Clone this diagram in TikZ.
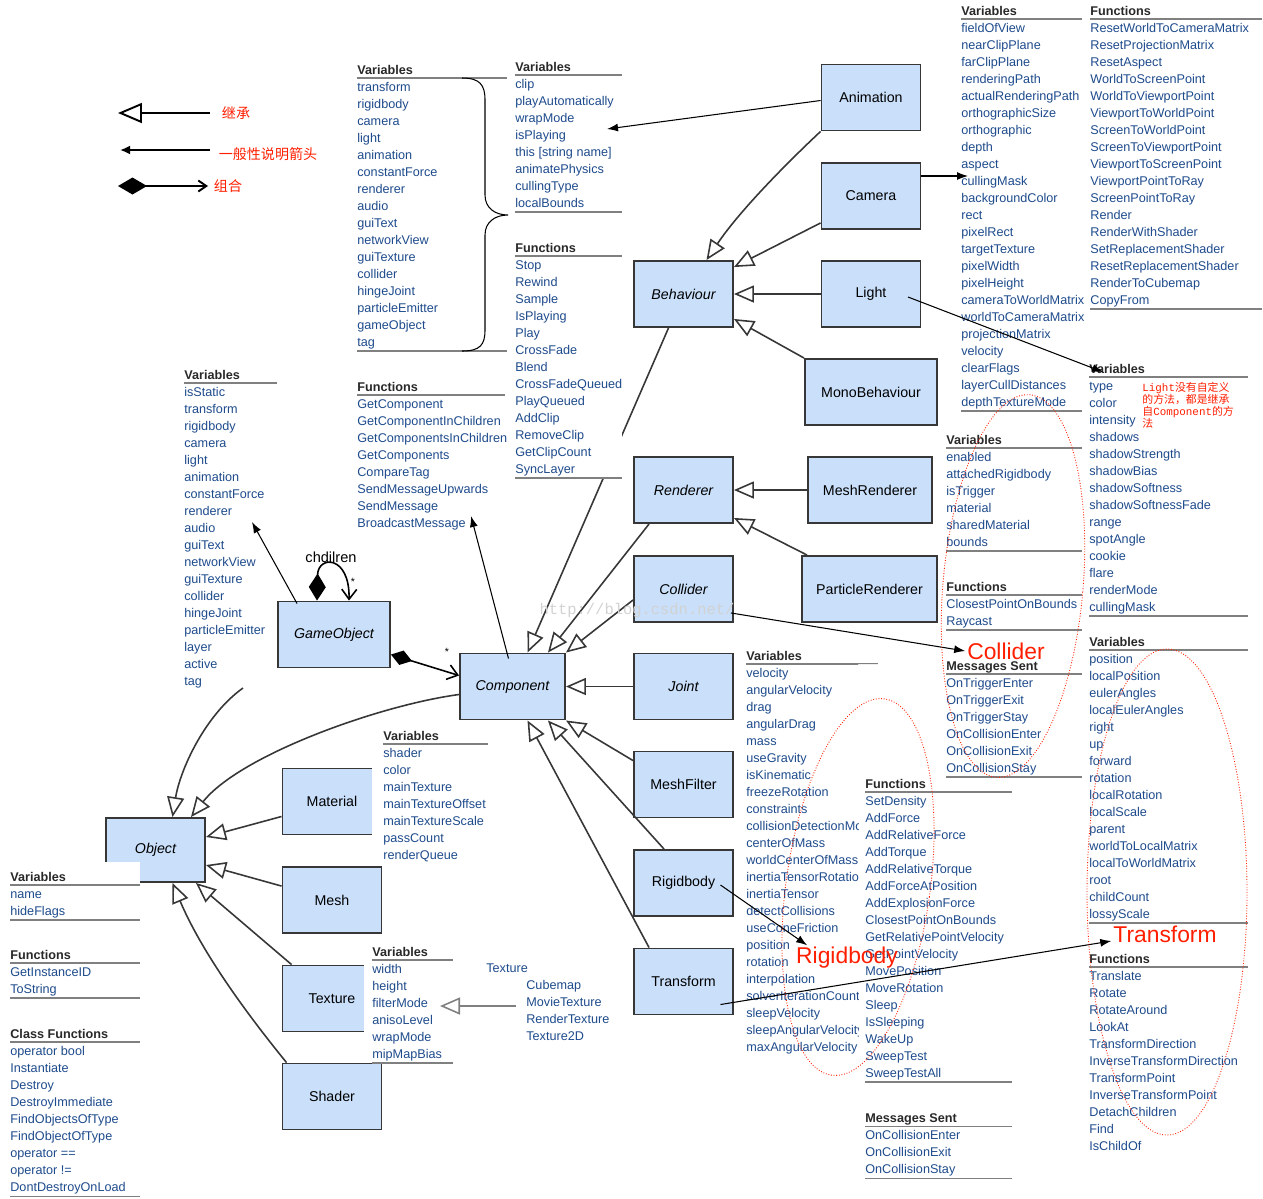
\documentclass[tikz,border=0pt]{standalone}
\usepackage{fontspec}
\setmainfont{Liberation Sans}
\newfontfamily\cjk{Noto Sans CJK SC}
\newfontfamily\ttcourier{Liberation Mono}
\usepackage{tikz}
\usetikzlibrary{arrows.meta}
\usetikzlibrary{calc}

\definecolor{boxfill}{RGB}{201,223,250}
\definecolor{boxline}{RGB}{55,55,55}
\definecolor{itemblue}{RGB}{30,75,140}
\definecolor{headgray}{RGB}{40,40,40}
\definecolor{rulegray}{RGB}{128,128,128}
\definecolor{notered}{RGB}{255,30,0}

\tikzset{
  cls/.style={draw=boxline, line width=1.1pt, fill=boxfill, minimum width=1.98cm, minimum height=1.32cm, inner sep=0pt, font=\fontsize{8.1}{9.7}\selectfont},
  abstract/.style={cls, font=\fontsize{8.1}{9.7}\selectfont\itshape},
  inherit/.style={draw=boxline, line width=0.9pt, -{Triangle[open, length=0.4cm, width=0.34cm, line width=0.9pt]}},
  note/.style={draw=black, line width=0.6pt, -{Latex[length=0.22cm, width=0.16cm]}},
  compose/.style={draw=black, line width=0.9pt, {Diamond[length=0.44cm, width=0.3cm]}-{Straight Barb[length=0.2cm, width=0.3cm, line width=0.9pt]}},
  mhead/.style={anchor=base west, inner sep=0pt, text=headgray, font=\fontsize{7.2}{8.6}\selectfont\bfseries},
  mitem/.style={anchor=base west, inner sep=0pt, text=itemblue, font=\fontsize{7.2}{8.6}\selectfont},
  mrule/.style={draw=rulegray, line width=0.6pt},
  bignote/.style={text=notered, inner sep=1pt, font=\fontsize{13}{15}\selectfont},
  legendtext/.style={text=notered, inner sep=0pt, font=\cjk\fontsize{8}{10}\selectfont},
  ring/.style={draw=notered, densely dotted, line width=0.5pt},
}

% name, x, y of header, rule width, header, items, bottom rule (1/0)
\newcommand{\members}[7]{%
  \node[mhead] (#1) at (#2,#3+4) {#5};
  \draw[mrule] (#2,#3+8) -- ++(#4,0);
  \foreach \memb [count=\idx] in {#6}{
    \node[mitem] (#1-\idx) at (#2,#3+4+17*\idx) {\memb};
    \xdef\mlast{\idx}}
  \ifnum#7=1 \draw[mrule] (#2,#3+9+17*\mlast) -- ++(#4,0);\fi
}

\begin{document}
\begin{tikzpicture}[x=0.02cm, y=-0.02cm]
        \useasboundingbox (0,0) rectangle (1263,1198);

        \node[cls] (Animation) at (871,97.5) {Animation};
        \node[cls] (Camera) at (871,196) {Camera};
        \node[cls] (Light) at (871,294) {Light};
        \node[cls, minimum width=2.64cm] (MonoBehaviour) at (871,392) {MonoBehaviour};
        \node[abstract] (Behaviour) at (683.5,294) {Behaviour};
        \node[abstract] (Renderer) at (683.5,490) {Renderer};
        \node[cls, minimum width=2.48cm] (MeshRenderer) at (870,490) {MeshRenderer};
        \node[cls, minimum width=2.7cm] (ParticleRenderer) at (869.5,589) {ParticleRenderer};
        \node[abstract] (Collider) at (683.5,589) {Collider};
        \node[abstract] (Joint) at (683.5,686.5) {Joint};
        \node[cls] (MeshFilter) at (683.5,784.5) {MeshFilter};
        \node[cls] (Rigidbody) at (683.5,883) {Rigidbody};
        \node[cls] (Transform) at (683.5,981.5) {Transform};
        \node[abstract, minimum width=2.1cm] (Component) at (512.5,686.5) {Component};
        \node[abstract, minimum width=2.24cm] (GameObject) at (334,634.5) {GameObject};
        \node[abstract, minimum height=1.28cm] (Object) at (155.5,850) {Object};
        \node[cls] (Material) at (332,801.5) {Material};
        \node[cls] (Mesh) at (332,900) {Mesh};
        \node[cls] (Texture) at (332,998.5) {Texture};
        \node[cls] (Shader) at (332,1096.5) {Shader};

        \coordinate (goTail) at (243,688);
        \draw[inherit] (Animation.south west) .. controls (790,160) and (740,210) .. ($(Behaviour.north)+(23,0)$);
        \draw[inherit] ($(Camera.south west)+(0,-7)$) -- ($(Behaviour.north east)+(0,7)$);
        \draw[inherit] (Light.west) -- (Behaviour.east);
        \draw[inherit] (MonoBehaviour.north west) -- ($(Behaviour.south east)+(0,-9)$);
        \draw[inherit] ($(Behaviour.south)+(-15,0)$) -- ($(Component.north)+(15,0)$);
        \draw[inherit] (MeshRenderer.west) -- (Renderer.east);
        \draw[inherit] ($(ParticleRenderer.north west)+(6,0)$) -- ($(Renderer.south east)+(0,-6)$);
        \draw[inherit] ($(Renderer.south west)+(16,0)$) -- ($(Component.north east)+(-18,0)$);
        \draw[inherit] ($(Collider.west)+(0,11)$) -- (Component.north east);
        \draw[inherit] (Joint.west) -- (Component.east);
        \draw[inherit] ($(MeshFilter.north west)+(0,10)$) -- (Component.south east);
        \draw[inherit] ($(Rigidbody.north west)+(31,0)$) -- ($(Component.south east)+(-18,0)$);
        \draw[inherit] ($(Transform.north west)+(16,0)$) -- ($(Component.south)+(15,0)$);
        \draw[inherit] (goTail) .. controls (205,715) and (180,770) .. ($(Object.north)+(17,0)$);
        \draw[inherit] ($(Component.west)+(0,8)$) .. controls (380,705) and (240,755) .. ($(Object.north east)+(-15,0)$);
        \draw[inherit] ($(Material.south west)+(0,-19)$) -- ($(Object.east)+(0,-13)$);
        \draw[inherit] ($(Mesh.north west)+(0,20)$) -- ($(Object.east)+(0,15)$);
        \draw[inherit] ($(Texture.north west)+(10,0)$) -- ($(Object.south east)+(-10,0)$);
        \draw[inherit] ($(Shader.north west)+(5,0)$) .. controls (260,1030) and (205,960) .. ($(Object.south)+(17,0)$);

        \draw[compose] ($(GameObject.east)+(0,20)$) -- ($(Component.west)+(0,-11)$);
        \draw[compose, {Diamond[length=0.54cm, width=0.34cm]}-{Straight Barb[length=0.2cm, width=0.3cm, line width=0.9pt]}] ($(GameObject.north)+(-17,0)$) .. controls (318,555) and (350,555) .. ($(GameObject.north)+(15,0)$);
        \node[inner sep=0pt, font=\fontsize{6}{7}\selectfont] (loopMany) at (353,582) {*};
        \node[inner sep=0pt, font=\fontsize{6}{7}\selectfont] (compMany) at (447,652) {*};
        \node[inner sep=0pt, font=\fontsize{8.3}{10}\selectfont] (children) at (331,557) {chdilren};

        \fill[white] (0,862) rectangle (140,886);
        \fill[white] (372,766) rectangle (384,837);
        \fill[white] (364,963) rectangle (384,1034);
        \fill[white] (515,240) rectangle (622,478);

        \members{cv}{357}{70}{150}{Variables}{transform,rigidbody,camera,light,animation,constantForce,renderer,audio,guiText,networkView,guiTexture,collider,hingeJoint,particleEmitter,gameObject,tag}{1}
        \draw[draw=black, line width=0.6pt] (462,78) .. controls (480,78) and (485,85) .. (485,100) -- (485,195) .. controls (485,208) and (495,215) .. (508,215) .. controls (495,215) and (485,222) .. (485,235) -- (485,330) .. controls (485,345) and (480,351) .. (462,351);
        \members{av}{515}{67}{107}{Variables}{clip,playAutomatically,wrapMode,isPlaying,this [string name],animatePhysics,cullingType,localBounds}{1}
        \members{af}{515}{248}{107}{Functions}{Stop,Rewind,Sample,IsPlaying,Play,CrossFade,Blend,CrossFadeQueued,PlayQueued,AddClip,RemoveClip,GetClipCount,SyncLayer}{1}
        \members{cf}{357}{387}{148}{Functions}{GetComponent,GetComponentInChildren,GetComponentsInChildren,GetComponents,CompareTag,SendMessageUpwards,SendMessage,BroadcastMessage}{0}
        \members{gv}{184}{375}{93}{Variables}{isStatic,transform,rigidbody,camera,light,animation,constantForce,renderer,audio,guiText,networkView,guiTexture,collider,hingeJoint,particleEmitter,layer,active,tag}{0}
        \members{camv}{961}{11}{121}{Variables}{fieldOfView,nearClipPlane,farClipPlane,renderingPath,actualRenderingPath,orthographicSize,orthographic,depth,aspect,cullingMask,backgroundColor,rect,pixelRect,targetTexture,pixelWidth,pixelHeight,cameraToWorldMatrix,worldToCameraMatrix,projectionMatrix,velocity,clearFlags,layerCullDistances,depthTextureMode}{1}
        \members{camf}{1090}{11}{172}{Functions}{ResetWorldToCameraMatrix,ResetProjectionMatrix,ResetAspect,WorldToScreenPoint,WorldToViewportPoint,ViewportToWorldPoint,ScreenToWorldPoint,ScreenToViewportPoint,ViewportToScreenPoint,ViewportPointToRay,ScreenPointToRay,Render,RenderWithShader,SetReplacementShader,ResetReplacementShader,RenderToCubemap,CopyFrom}{1}
        \members{lv}{1089}{369}{159}{Variables}{type,color,intensity,shadows,shadowStrength,shadowBias,shadowSoftness,shadowSoftnessFade,range,spotAngle,cookie,flare,renderMode,cullingMask}{1}
        \members{colv}{946}{440}{136}{Variables}{enabled,attachedRigidbody,isTrigger,material,sharedMaterial,bounds}{1}
        \members{colf}{946}{587}{136}{Functions}{ClosestPointOnBounds,Raycast}{1}
        \members{colm}{946}{666}{136}{Messages Sent}{OnTriggerEnter,OnTriggerExit,OnTriggerStay,OnCollisionEnter,OnCollisionExit,OnCollisionStay}{1}
        \begin{scope}
          \clip (740,640) -- (882,640) -- (882,664) -- (858,664) -- (858,1060) -- (740,1060) -- cycle;
          \members{rbv}{746}{656}{132}{Variables}{velocity,angularVelocity,drag,angularDrag,mass,useGravity,isKinematic,freezeRotation,constraints,collisionDetectionMode,centerOfMass,worldCenterOfMass,inertiaTensorRotation,inertiaTensor,detectCollisions,useConeFriction,position,rotation,interpolation,solverIterationCount,sleepVelocity,sleepAngularVelocity,maxAngularVelocity}{0}
        \end{scope}
        \members{rbf}{865}{784}{147}{Functions}{SetDensity,AddForce,AddRelativeForce,AddTorque,AddRelativeTorque,AddForceAtPosition,AddExplosionForce,ClosestPointOnBounds,GetRelativePointVelocity,GetPointVelocity,MovePosition,MoveRotation,Sleep,IsSleeping,WakeUp,SweepTest,SweepTestAll}{1}
        \members{rbm}{865}{1118}{147}{Messages Sent}{OnCollisionEnter,OnCollisionExit,OnCollisionStay}{1}
        \members{tv}{1089}{642}{159}{Variables}{position,localPosition,eulerAngles,localEulerAngles,right,up,forward,rotation,localRotation,localScale,parent,worldToLocalMatrix,localToWorldMatrix,root,childCount,lossyScale}{1}
        \members{tf}{1089}{959}{159}{Functions}{Translate,Rotate,RotateAround,LookAt,TransformDirection,InverseTransformDirection,TransformPoint,InverseTransformPoint,DetachChildren,Find,IsChildOf}{0}
        \members{mv}{383}{736}{105}{Variables}{shader,color,mainTexture,mainTextureOffset,mainTextureScale,passCount,renderQueue}{0}
        \members{texv}{372}{952}{81}{Variables}{width,height,filterMode,anisoLevel,wrapMode,mipMapBias}{1}
        \members{ov}{10}{877}{130}{Variables}{name,hideFlags}{1}
        \members{of}{10}{955}{130}{Functions}{GetInstanceID,ToString}{1}
        \members{ocf}{10}{1034}{130}{Class Functions}{operator bool,Instantiate,Destroy,DestroyImmediate,FindObjectsOfType,FindObjectOfType,operator ==,operator !=,DontDestroyOnLoad}{1}

        \node[mitem] (texsub) at (486,972) {Texture};
        \foreach \sub [count=\idx] in {Cubemap,MovieTexture,RenderTexture,Texture2D}
          \node[mitem] (texsub-\idx) at (526,972+17*\idx) {\sub};
        \coordinate (texFrom) at (516,1006);
        \coordinate (texTo) at (440,1006);
        \draw[inherit, draw=rulegray, line width=1.2pt] (texFrom) -- (texTo);

        \node[bignote] (colliderLbl) at (1006,651) {Collider};
        \node[bignote] (rigidLbl) at (847,958) {Rigidbody};
        \node[bignote] (transformLbl) at (1165,934) {Transform};
        \node[anchor=north west, align=left, inner sep=0pt, text=notered, font=\cjk\fontsize{6.2}{6.8}\selectfont] (lightRemark) at (1142,382) {{\ttcourier Light}没有自定义\\的方法，都是继承\\自{\ttcourier Component}的方\\法};

        \coordinate (animTip) at (607,129);
        \coordinate (camTip) at (968,176);
        \coordinate (lightTip) at (1103,372);
        \coordinate (cfTip) at (471,516);
        \coordinate (gvTip) at (252,522);
        \draw[note] ($(Animation.west)+(0,3)$) -- (animTip);
        \draw[note] ($(Camera.east)+(0,-20)$) -- (camTip);
        \draw[note] ($(Light.center)+(37,3)$) -- (lightTip);
        \draw[note] ($(Component.north)+(-4,6)$) -- (cfTip);
        \draw[note] ($(GameObject.north west)+(20,3)$) -- (gvTip);
        \draw[note] ($(Collider.south east)+(-3,-10)$) -- (colliderLbl.west);
        \draw[note] ($(Rigidbody.center)+(37,2)$) -- ($(rigidLbl.north west)+(13,0)$);
        \draw[note] ($(Transform.center)+(37,23)$) -- ($(transformLbl.west)+(0,7)$);

        \draw[ring, rotate around={-5:(1013,586)}] (1013,586) ellipse [x radius=70, y radius=192];
        \draw[ring, rotate around={-8:(858,887)}] (858,887) ellipse [x radius=72, y radius=190];
        \draw[ring] (1167,892) ellipse [x radius=80, y radius=243];

        \node[text=gray!35, inner sep=0pt, font=\ttcourier\fontsize{8.8}{10}\selectfont] (watermark) at (637,610) {http://blog.csdn.net/};

        \coordinate (lgA1) at (210,113);
        \coordinate (lgA2) at (118,113);
        \coordinate (lgB1) at (210,150);
        \coordinate (lgB2) at (120,150);
        \coordinate (lgC1) at (118,186);
        \coordinate (lgC2) at (208,186);
        \draw[draw=black, line width=1.1pt, -{Triangle[open, length=0.48cm, width=0.4cm, line width=1.1pt]}] (lgA1) -- (lgA2);
        \draw[draw=black, line width=1.1pt, -{Latex[length=0.2cm, width=0.18cm]}] (lgB1) -- (lgB2);
        \draw[draw=black, line width=1.1pt, {Diamond[length=0.58cm, width=0.34cm]}-{Straight Barb[length=0.16cm, width=0.22cm, line width=1.1pt]}] (lgC1) -- (lgC2);
        \node[legendtext] (lgInherit) at (236,113) {继承};
        \node[legendtext] (lgNote) at (268,154) {一般性说明箭头};
        \node[legendtext] (lgCompose) at (228,186) {组合};
\end{tikzpicture}
\end{document}
